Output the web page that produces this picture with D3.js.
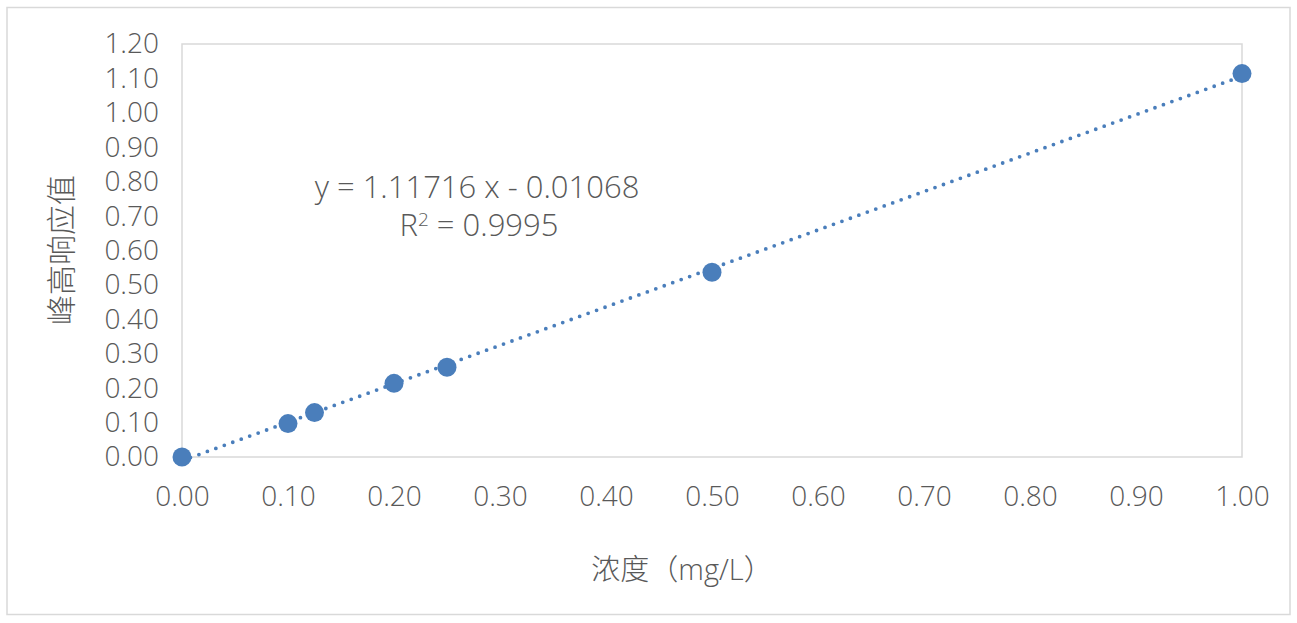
<!DOCTYPE html>
<html>
<head>
<meta charset="utf-8">
<script src="https://cdn.jsdelivr.net/npm/d3@7"></script>
<style>
  body { margin: 0; background: #fff; }
  text { font-family: "Open Sans", "Noto Sans CJK SC", sans-serif; font-weight: 300; fill: #595959; }
</style>
</head>
<body>
<div id="chart"></div>
<script>
// data
var concentration = [0, 0.1, 0.125, 0.2, 0.25, 0.5, 1.0];
var response = [0.0, 0.097, 0.129, 0.214, 0.261, 0.537, 1.114];
var fitSlope = 1.11716;
var fitIntercept = -0.01068;
var fitText = ["y = 1.11716 x - 0.01068", "R", "2", " = 0.9995"];
var xTicks = [0, 0.1, 0.2, 0.3, 0.4, 0.5, 0.6, 0.7, 0.8, 0.9, 1.0];
var yTicks = [0, 0.1, 0.2, 0.3, 0.4, 0.5, 0.6, 0.7, 0.8, 0.9, 1.0, 1.1, 1.2];
var xTitle = "浓度（mg/L）";
var yTitle = "峰高响应值";

var width = 1297;
var height = 623;
var plot = { left: 182, right: 1242, top: 44, bottom: 457 };
var dotColor = "#4a7ebb";

var svg = d3
  .select("#chart")
  .append("svg")
  .attr("width", width)
  .attr("height", height);

// outer chart border
svg
  .append("rect")
  .attr("x", 7)
  .attr("y", 7.5)
  .attr("width", 1283)
  .attr("height", 607)
  .attr("fill", "#fff")
  .attr("stroke", "#d9d9d9")
  .attr("stroke-width", 1.5);

var xScale = d3.scaleLinear().domain([0, 1]).range([plot.left, plot.right]);
var yScale = d3.scaleLinear().domain([0, 1.2]).range([plot.bottom, plot.top]);

// plot area box
svg
  .append("rect")
  .attr("x", plot.left)
  .attr("y", plot.top)
  .attr("width", plot.right - plot.left)
  .attr("height", plot.bottom - plot.top)
  .attr("fill", "none")
  .attr("stroke", "#d9d9d9")
  .attr("stroke-width", 1.5);

var xAxis = d3.axisBottom(xScale).tickValues(xTicks).tickFormat(d3.format(".2f")).tickSize(0).tickPadding(29);
var yAxis = d3.axisLeft(yScale).tickValues(yTicks).tickFormat(d3.format(".2f")).tickSize(0).tickPadding(23);

var gx = svg
  .append("g")
  .attr("transform", "translate(0," + plot.bottom + ")")
  .call(xAxis);
var gy = svg
  .append("g")
  .attr("transform", "translate(" + plot.left + ",0)")
  .call(yAxis);

[gx, gy].forEach(function(g) {
  g.select(".domain").remove();
  g.selectAll("text")
    .attr("font-size", 28)
    .attr("font-family", null)
    .style("fill", "#595959");
});

// trendline
var fitLine = d3
  .line()
  .x(function(d) { return xScale(d); })
  .y(function(d) { return yScale(fitSlope * d + fitIntercept); });

svg
  .append("path")
  .datum([0, 1])
  .attr("d", fitLine)
  .attr("fill", "none")
  .attr("stroke", dotColor)
  .attr("stroke-width", 3.8)
  .attr("stroke-linecap", "round")
  .attr("stroke-dasharray", "0 9");

// points
svg
  .selectAll("circle.pt")
  .data(concentration)
  .enter()
  .append("circle")
  .attr("class", "pt")
  .attr("cx", function(d) { return xScale(d); })
  .attr("cy", function(d, i) { return yScale(response[i]); })
  .attr("r", 9.5)
  .attr("fill", dotColor);

// equation label
var eq = svg.append("text").attr("text-anchor", "middle").attr("font-size", 31);
eq.append("tspan").attr("x", 477).attr("y", 198).text(fitText[0]);
var r2 = svg.append("text").attr("text-anchor", "middle").attr("font-size", 31);
r2.append("tspan").attr("x", 479).attr("y", 236).text(fitText[1]);
r2.append("tspan").attr("font-size", 19).attr("dy", -10).text(fitText[2]);
r2.append("tspan").attr("dy", 10).text(fitText[3]);

// axis titles
svg
  .append("text")
  .attr("x", 682)
  .attr("y", 580)
  .attr("text-anchor", "middle")
  .attr("font-size", 29)
  .text(xTitle);

svg
  .append("text")
  .attr("transform", "translate(72,250)rotate(-90)")
  .attr("text-anchor", "middle")
  .attr("font-size", 30)
  .text(yTitle);
</script>
</body>
</html>
